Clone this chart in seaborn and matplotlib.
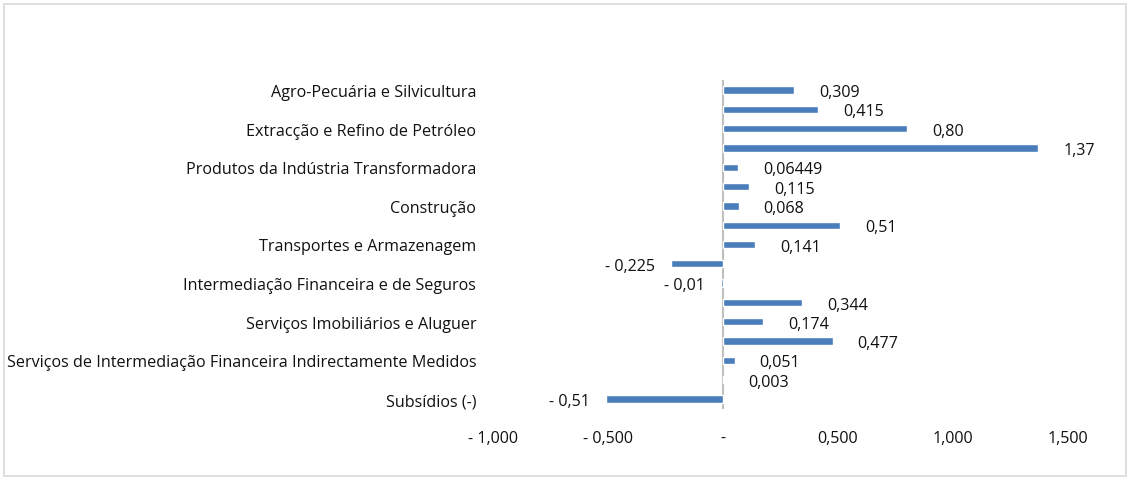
import pandas as pd
import numpy as np
import seaborn as sns
import matplotlib.pyplot as plt
from matplotlib.patches import Rectangle

# Chart data, top to bottom
row_labels = [
    "Agro-Pecuária e Silvicultura", "",
    "Extracção e Refino de Petróleo", "",
    "Produtos da Indústria Transformadora", "",
    "Construção", "",
    "Transportes e Armazenagem", "",
    "Intermediação Financeira e de Seguros", "",
    "Serviços Imobiliários e Aluguer", "",
    "Serviços de Intermediação Financeira Indirectamente Medidos", "",
    "Subsídios (-)",
]
values = [0.309, 0.415, 0.80, 1.37, 0.06449, 0.115, 0.068, 0.51, 0.141,
          -0.225, -0.01, 0.344, 0.174, 0.477, 0.051, 0.003, -0.51]
value_labels = ["0,309", "0,415", "0,80", "1,37", "0,06449", "0,115", "0,068",
                "0,51", "0,141", "- 0,225", "- 0,01", "0,344", "0,174",
                "0,477", "0,051", "0,003", "- 0,51"]
x_ticks = [-1.0, -0.5, 0.0, 0.5, 1.0, 1.5]
x_tick_labels = ["- 1,000", "- 0,500", "-", "0,500", "1,000", "1,500"]

df = pd.DataFrame({"row": [str(i) for i in range(len(values))], "value": values})

sns.set_style("white")
plt.rcParams["font.family"] = ["Open Sans", "DejaVu Sans"]
fs = 11.6
txt = "#111111"

fig = plt.figure(figsize=(11.3, 4.81), dpi=100)
ax = fig.add_axes([493 / 1130, 1 - 409.7 / 481, 575 / 1130, 328.4 / 481])

sns.barplot(data=df, y="row", x="value", orient="h", color="#4A7EBB",
            saturation=1, width=0.38, ax=ax)

# value labels
for i, (v, lab) in enumerate(zip(values, value_labels)):
    if v >= 0:
        ax.annotate(lab, (v, i), xytext=(18, -1.5), textcoords="offset points",
                    ha="left", va="center", fontsize=fs, color=txt)
    else:
        ax.annotate(lab, (v, i), xytext=(-11.5, -1.5), textcoords="offset points",
                    ha="right", va="center", fontsize=fs, color=txt)

ax.set_xlim(-1.0, 1.5)
ax.set_ylim(len(values) - 0.5, -0.5)
ax.set_xticks(x_ticks)
ax.set_xticklabels(x_tick_labels, fontsize=fs, color=txt)
shown = [i for i, t in enumerate(row_labels) if t]
ax.set_yticks(shown)
ax.set_yticklabels([row_labels[i] for i in shown], fontsize=fs, color=txt)
ax.tick_params(axis="y", length=0, pad=12)
ax.tick_params(axis="x", length=0, pad=15)
ax.set_xlabel("")
ax.set_ylabel("")
for s in ax.spines.values():
    s.set_visible(False)
ax.axvline(0, color="#BFBFBF", linewidth=1.5, zorder=0)

# light border round the chart
fig.patches.append(Rectangle((4 / 1130, 4 / 481), 1122 / 1130, 472 / 481,
                             transform=fig.transFigure, fill=False,
                             edgecolor="#D9D9D9", linewidth=1.2))

fig.savefig("out.png", dpi=100)
